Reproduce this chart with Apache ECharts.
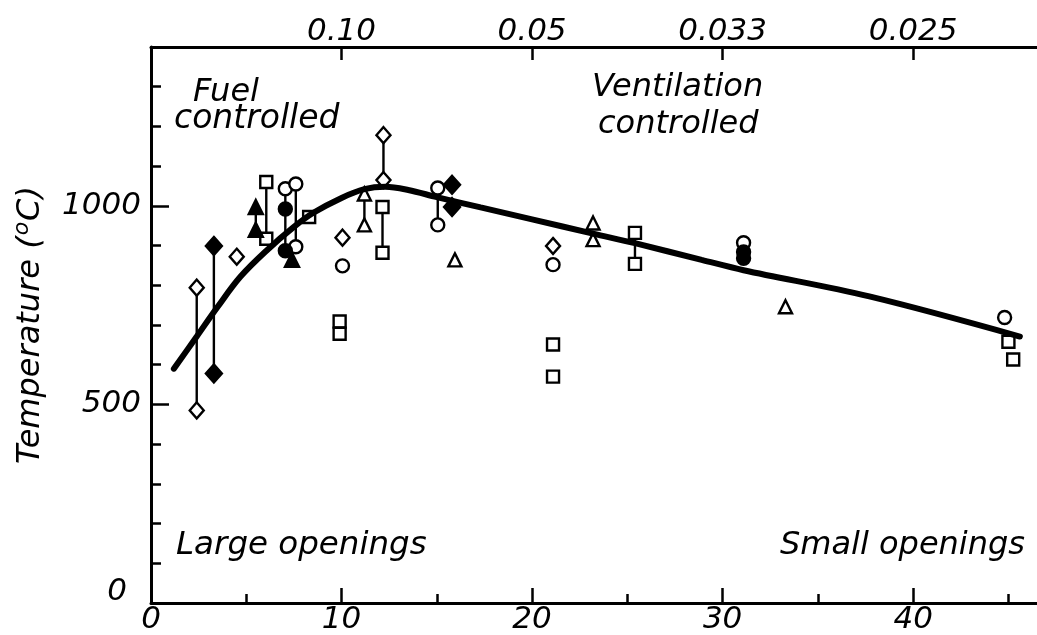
<!DOCTYPE html>
<html><head><meta charset="utf-8">
<script src="https://cdn.jsdelivr.net/npm/echarts@6/dist/echarts.min.js"></script>
<style>html,body{margin:0;padding:0;background:#fff}#c{width:1037px;height:635px}</style>
</head><body><div id="c"></div>
<script>
// ---- data ----
const xMajorTicks = [0, 10, 20, 30, 40];
const xMinorTicks = [5, 15, 25, 35, 45];
const topTickValues = [10, 20, 30, 40];
const topTickLabels = ['0.10', '0.05', '0.033', '0.025'];
const yLabelValues = [0, 500, 1000];
const yMajorTicks = [500, 1000];
const yMinorTicks = [100, 200, 300, 400, 600, 700, 800, 900, 1100, 1200, 1300];

const openDiamonds = [[2.4, 794], [2.4, 485], [4.5, 872], [10.05, 920], [12.2, 1178], [12.2, 1065], [21.1, 899]];
const filledDiamonds = [[3.3, 899], [3.3, 578], [15.8, 1053], [15.8, 997]];
const openSquares = [[6.05, 1060], [6.05, 917], [8.3, 972], [9.9, 709], [9.9, 678], [12.15, 997], [12.15, 882],
  [21.1, 651], [21.1, 570], [25.4, 932], [25.4, 854], [45.0, 658], [45.25, 613]];
const openCircles = [[7.05, 1043], [7.6, 1055], [7.6, 897], [10.05, 849], [15.05, 1045], [15.05, 952], [21.1, 852],
  [31.1, 907], [44.8, 719]];
const filledCircles = [[7.05, 992], [7.05, 887], [31.1, 884], [31.1, 868]];
const openTriangles = [[11.2, 952], [11.2, 1030], [15.95, 864], [23.2, 957], [23.2, 915], [33.3, 746]];
const filledTriangles = [[5.5, 997], [5.5, 940], [7.4, 864]];
// vertical connectors: [x, lowT, highT]
const connectors = [[2.4, 485, 794], [3.3, 578, 899], [5.5, 940, 997], [6.05, 917, 1060], [7.05, 887, 1043],
  [7.6, 897, 1055], [11.2, 952, 1030], [12.2, 1065, 1178], [12.15, 882, 997], [15.05, 952, 1045], [25.4, 854, 932]];
// fitted curve
const curve = [[1.2, 590], [2.4, 671], [3.5, 746], [4.7, 822], [6.1, 889], [7.5, 947], [8.5, 982], [10, 1020],
  [11.2, 1042], [12.3, 1048], [13.5, 1040], [15, 1022], [17.3, 996], [20, 966], [23.2, 930], [25.4, 906],
  [28.9, 864], [31.1, 838], [37.7, 772], [45.6, 671]];

const FONT = 'DejaVu Sans';
const txt = (size) => ({ fontFamily: FONT, fontStyle: 'italic', fontSize: size, color: '#000' });

function scatter(data, symbol, size, filled) {
  return {
    type: 'scatter', data: data, symbol: symbol, symbolSize: size, z: 4,
    itemStyle: { color: filled ? '#000' : '#fff', borderColor: '#000', borderWidth: 2.4, opacity: 1 }
  };
}

const chart = echarts.init(document.getElementById('c'), null, { renderer: 'canvas' });
chart.setOption({
  animation: false,
  backgroundColor: '#fff',
  grid: { left: 151, top: 47, right: 0, bottom: 32, containLabel: false },
  xAxis: [
    { type: 'value', min: 0, max: 46.5, position: 'bottom',
      axisLine: { lineStyle: { color: '#000', width: 3 } },
      axisTick: { inside: true, length: 15, customValues: xMajorTicks, lineStyle: { color: '#000', width: 2.5 } },
      axisLabel: Object.assign(txt(31), { customValues: xMajorTicks, margin: 1 }),
      splitLine: { show: false } },
    { type: 'value', min: 0, max: 46.5, position: 'bottom',
      axisLine: { show: false },
      axisTick: { inside: true, length: 9, customValues: xMinorTicks, lineStyle: { color: '#000', width: 2.5 } },
      axisLabel: { show: false }, splitLine: { show: false } },
    { type: 'value', min: 0, max: 46.5, position: 'top',
      axisLine: { lineStyle: { color: '#000', width: 3 } },
      axisTick: { inside: true, length: 13, customValues: topTickValues, lineStyle: { color: '#000', width: 2.5 } },
      axisLabel: Object.assign(txt(31), { customValues: topTickValues, margin: 0,
        formatter: (v) => topTickLabels[topTickValues.indexOf(v)] }),
      splitLine: { show: false } }
  ],
  yAxis: [
    { type: 'value', min: 0, max: 1400, position: 'left',
      axisLine: { lineStyle: { color: '#000', width: 3 } },
      axisTick: { inside: true, length: 18, customValues: yMajorTicks, lineStyle: { color: '#000', width: 2.5 } },
      axisLabel: Object.assign(txt(31), { customValues: yLabelValues, margin: 10,
        formatter: (v) => v === 0 ? '{z|0}' : String(v),
        rich: { z: Object.assign(txt(31), { padding: [0, 14, 22, 0] }) } }),
      splitLine: { show: false },
      name: '{a|Temperature (}{s|o}{a|C)}', nameLocation: 'middle', nameRotate: 90, nameGap: 98,
      nameTextStyle: { rich: {
        a: Object.assign(txt(32), { lineHeight: 38 }),
        s: Object.assign(txt(22), { lineHeight: 38, verticalAlign: 'top', padding: [0, 1, 18, 1] }) } } },
    { type: 'value', min: 0, max: 1400, position: 'left',
      axisLine: { show: false },
      axisTick: { inside: true, length: 10, customValues: yMinorTicks, lineStyle: { color: '#000', width: 2.5 } },
      axisLabel: { show: false }, splitLine: { show: false } }
  ],
  series: [
    { type: 'custom', z: 3, data: connectors,
      renderItem: function (params, api) {
        const p1 = api.coord([api.value(0), api.value(1)]);
        const p2 = api.coord([api.value(0), api.value(2)]);
        return { type: 'line', shape: { x1: p1[0], y1: p1[1], x2: p2[0], y2: p2[1] },
          style: { stroke: '#000', lineWidth: 2.4 } };
      } },
    scatter(openDiamonds, 'diamond', [14, 16], false),
    scatter(filledDiamonds, 'diamond', [16, 18], true),
    scatter(openSquares, 'rect', 12, false),
    scatter(openCircles, 'circle', 13, false),
    scatter(filledCircles, 'circle', 13, true),
    scatter(openTriangles, 'triangle', 13, false),
    scatter(filledTriangles, 'triangle', 14, true),
    { type: 'line', data: curve, smooth: 0.35, showSymbol: false, z: 6,
      lineStyle: { color: '#000', width: 6, cap: 'round' } }
  ],
  graphic: [
    { type: 'text', left: 193, top: 77, style: Object.assign(txt(32), { text: 'Fuel', fill: '#000' }) },
    { type: 'text', left: 174, top: 103, style: Object.assign(txt(33), { text: 'controlled', fill: '#000' }) },
    { type: 'text', left: 592, top: 72, style: Object.assign(txt(32), { text: 'Ventilation', fill: '#000' }) },
    { type: 'text', left: 598, top: 109, style: Object.assign(txt(32), { text: 'controlled', fill: '#000' }) },
    { type: 'text', left: 176, top: 529, style: Object.assign(txt(32.5), { text: 'Large openings', fill: '#000' }) },
    { type: 'text', right: 12, top: 530, style: Object.assign(txt(32), { text: 'Small openings', fill: '#000' }) }
  ]
});
</script></body></html>
